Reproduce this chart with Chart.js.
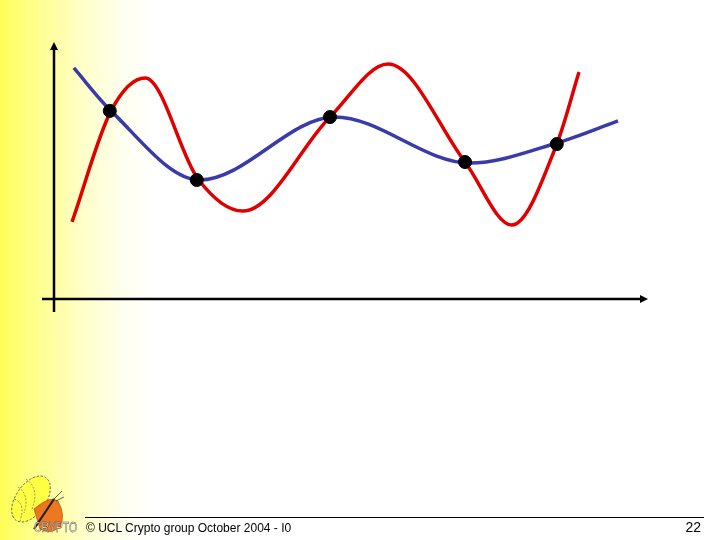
<!DOCTYPE html>
<html>
<head>
<meta charset="utf-8">
<script src="https://cdn.jsdelivr.net/npm/chart.js@4/dist/chart.umd.min.js"></script>
<style>
  html, body { margin: 0; padding: 0; }
  body { width: 720px; height: 540px; position: relative; overflow: hidden;
    background: linear-gradient(to right, #ffff55 0px, #ffff70 15px, #ffffa0 50px, #ffffd0 90px, #fffff0 125px, #ffffff 155px); 
    font-family: "Liberation Sans", Arial, sans-serif; }
  #wrap { position: absolute; left: 0; top: 0; width: 720px; height: 540px; }
  #footline { position: absolute; left: 85px; top: 517px; width: 619px; height: 1px; background: #000; }
  #foottext { position: absolute; left: 86px; top: 521px; font-size: 12px; color: #000; }
  #pagenum { position: absolute; right: 19px; top: 519px; font-size: 14px; color: #000; }
  #logo { position: absolute; left: 0px; top: 465px; }
</style>
</head>
<body>
<div id="wrap"><canvas id="c" width="720" height="540"></canvas></div>
<svg id="logo" width="84" height="75" viewBox="0 0 84 75">
  <ellipse cx="31" cy="34" rx="15" ry="26" fill="#ffff44" stroke="#555" stroke-width="0.8" stroke-dasharray="2.5,1.5" transform="rotate(35 31 34)"/>
  <path d="M18 22 Q30 30 24 48 M26 14 Q40 24 32 44 M14 34 Q26 38 20 56" fill="none" stroke="#666" stroke-width="0.7" stroke-dasharray="2,1.5"/>
  <path d="M34 44 Q50 30 58 36 Q66 50 60 62 Q50 70 40 64 Z" fill="#ee7722" stroke="#a04010" stroke-width="0.6"/>
  <line x1="34" y1="64" x2="54" y2="34" stroke="#222" stroke-width="2.2"/>
  <line x1="54" y1="34" x2="62" y2="26" stroke="#333" stroke-width="0.8"/>
  <line x1="56" y1="36" x2="64" y2="32" stroke="#333" stroke-width="0.8"/>
  <text x="34" y="67" font-family="Liberation Sans, Arial" font-size="15" textLength="43" lengthAdjust="spacingAndGlyphs" fill="#fff" stroke="#333" stroke-width="0.5">CRYPTO</text>
</svg>
<div id="footline"></div>
<div id="foottext">© UCL Crypto group October 2004 - I0</div>
<div id="pagenum">22</div>
<script>
// Blue curve: endpoints, crossings and turning points
const blueX = [3.3, 9.5, 24.3, 46.8, 69.3, 83.8, 94.0];
const blueY = [89.9, 73.2, 46.3, 70.8, 52.9, 60.7, 69.3];
// Red curve: endpoints, crossings and turning points
const redX = [3.0, 9.5, 15.2, 24.0, 31.5, 46.0, 55.7, 68.5, 76.3, 83.8, 87.5];
const redY = [30.0, 73.2, 86.0, 46.7, 34.2, 70.8, 91.4, 53.3, 28.8, 60.3, 88.3];
// Black interpolation points
const ptX = [9.3, 23.8, 46.0, 68.5, 83.8];
const ptY = [73.2, 46.3, 70.8, 53.3, 60.3];

const toXY = (xs, ys) => xs.map((x, i) => ({x: x, y: ys[i]}));

const axesPlugin = {
  id: 'axesArrows',
  beforeDatasetsDraw(chart) {
    const ctx = chart.ctx, xs = chart.scales.x, ys = chart.scales.y;
    const x0 = xs.getPixelForValue(0), y0 = ys.getPixelForValue(0);
    const xEnd = xs.getPixelForValue(xs.max), yEnd = ys.getPixelForValue(ys.max);
    ctx.save();
    ctx.strokeStyle = '#000'; ctx.fillStyle = '#000'; ctx.lineWidth = 2.5;
    ctx.beginPath();
    ctx.moveTo(x0, y0 + 13); ctx.lineTo(x0, yEnd + 6);
    ctx.moveTo(x0 - 12, y0); ctx.lineTo(xEnd - 6, y0);
    ctx.stroke();
    ctx.beginPath();
    ctx.moveTo(x0, yEnd); ctx.lineTo(x0 - 4, yEnd + 8); ctx.lineTo(x0 + 4, yEnd + 8); ctx.closePath(); ctx.fill();
    ctx.beginPath();
    ctx.moveTo(xEnd, y0); ctx.lineTo(xEnd - 8, y0 - 4); ctx.lineTo(xEnd - 8, y0 + 4); ctx.closePath(); ctx.fill();
    ctx.restore();
  }
};

new Chart(document.getElementById('c'), {
  type: 'scatter',
  data: {
    datasets: [
      { label: 'points', data: toXY(ptX, ptY), showLine: false, pointRadius: 6.5, pointHoverRadius: 6.5,
        pointBackgroundColor: '#000', pointBorderColor: '#000', order: 0 },
      { label: 'red', data: toXY(redX, redY), showLine: true, borderColor: '#e00000', borderWidth: 3.5,
        pointRadius: 0, cubicInterpolationMode: 'monotone', fill: false, order: 1 },
      { label: 'blue', data: toXY(blueX, blueY), showLine: true, borderColor: '#3a3aaa', borderWidth: 3.5,
        pointRadius: 0, cubicInterpolationMode: 'monotone', fill: false, order: 2 }
    ]
  },
  options: {
    responsive: false,
    animation: false,
    events: [],
    layout: { padding: { left: 54, right: 72, top: 42, bottom: 241 } },
    plugins: { legend: { display: false }, tooltip: { enabled: false } },
    scales: {
      x: { type: 'linear', min: 0, max: 99, display: false },
      y: { type: 'linear', min: 0, max: 100, display: false }
    }
  },
  plugins: [axesPlugin]
});
</script>
</body>
</html>
